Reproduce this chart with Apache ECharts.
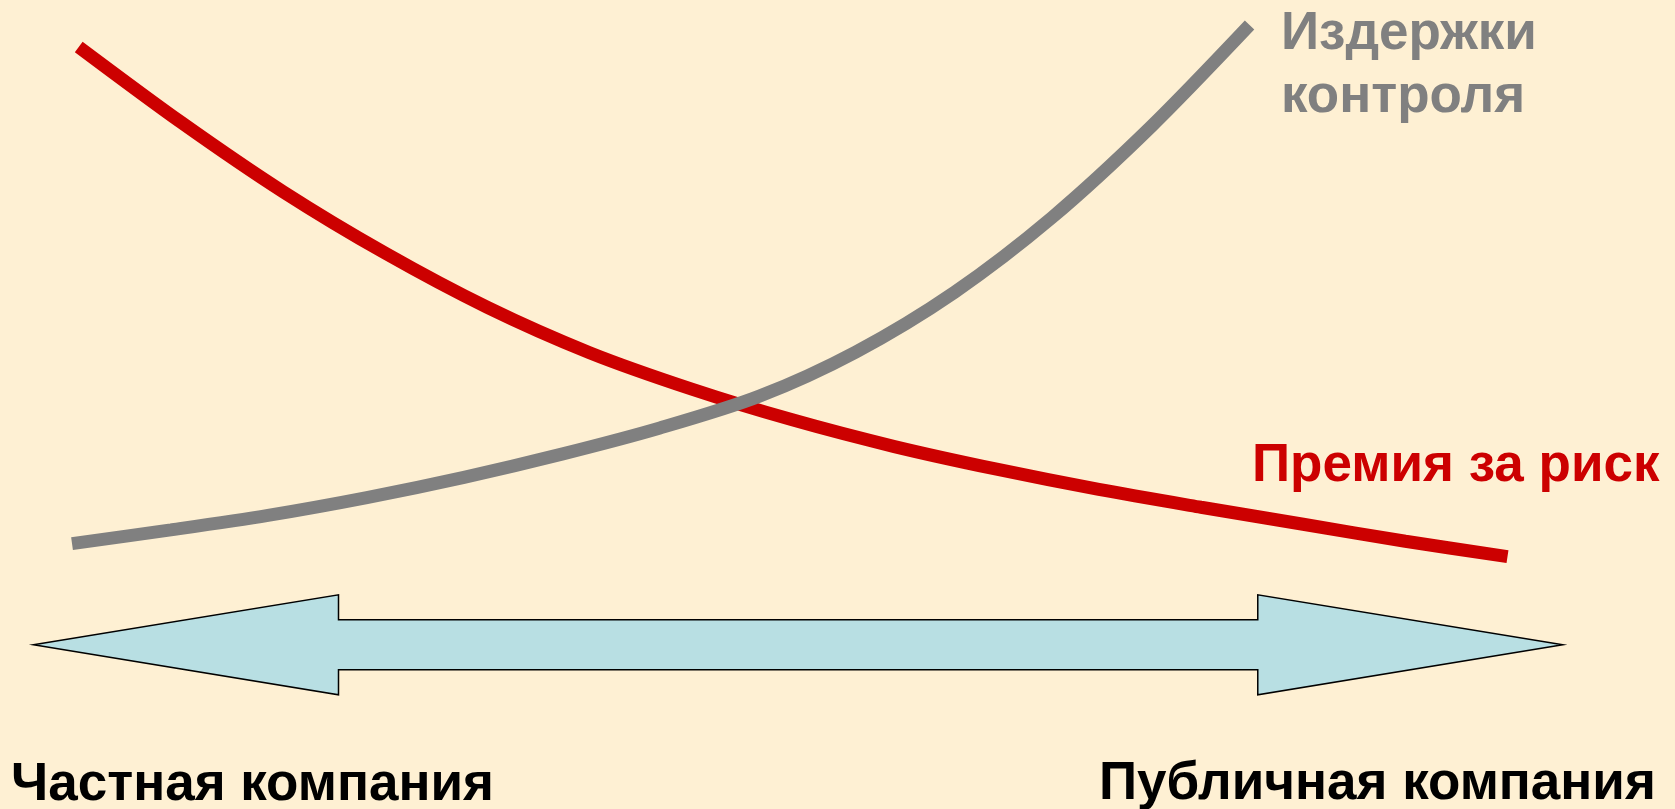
<!DOCTYPE html>
<html>
<head>
<meta charset="utf-8">
<title>Премия за риск / Издержки контроля</title>
<script src="https://cdn.jsdelivr.net/npm/echarts@6/dist/echarts.min.js"></script>
<style>
  html, body { margin: 0; padding: 0; background: #FEF0D3; }
  #chart { width: 1675px; height: 809px; }
</style>
</head>
<body>
<div id="chart"></div>
<script>
// шкала 0..100 по обеим осям: слева частная компания, справа публичная
const riskX = [4.7, 10.8, 16.9, 23.0, 29.1, 35.2, 41.3, 47.3, 53.4, 59.5, 65.6, 71.7, 77.8, 83.9, 90.0]
const riskY = [94.2, 84.9, 76.3, 68.7, 62.0, 56.4, 51.9, 48.1, 44.8, 42.0, 39.5, 37.3, 35.2, 33.1, 31.2]

const costX = [4.3, 10.2, 16.0, 21.9, 27.7, 33.6, 39.4, 45.3, 51.1, 57.0, 62.8, 68.7, 74.6]
const costY = [32.8, 34.5, 36.3, 38.5, 41.0, 43.9, 47.1, 51.0, 56.5, 63.9, 73.1, 84.3, 96.9]

// двойная стрелка: от, до, уровень
const arrowFrom = 2.0
const arrowTo = 93.3
const arrowLevel = 20.3

const riskName = 'Премия за риск'
const costName = ['Издержки', 'контроля']
const leftName = 'Частная компания'
const rightName = 'Публичная компания'

const chartInstance = echarts.init(document.getElementById('chart'))

const toPairs = (xs, ys) => xs.map((x, i) => [x, ys[i]])

const font = 'bold 53px "Liberation Sans", Arial, sans-serif'

const option = {
  backgroundColor: '#FEF0D3',
  animation: false,
  grid: { left: 0, right: 0, top: 0, bottom: 0 },
  xAxis: { type: 'value', min: 0, max: 100, show: false },
  yAxis: { type: 'value', min: 0, max: 100, show: false },
  series: [
    {
      type: 'custom',
      encode: { x: [0, 1], y: 2 },
      data: [[arrowFrom, arrowTo, arrowLevel]],
      renderItem: (params, api) => {
        const l = api.coord([api.value(0), api.value(2)])
        const r = api.coord([api.value(1), api.value(2)])
        const y = l[1]
        const head = 305
        const headHalf = 50
        const shaftHalf = 25
        return {
          type: 'polygon',
          shape: {
            points: [
              [l[0], y],
              [l[0] + head, y - headHalf],
              [l[0] + head, y - shaftHalf],
              [r[0] - head, y - shaftHalf],
              [r[0] - head, y - headHalf],
              [r[0], y],
              [r[0] - head, y + headHalf],
              [r[0] - head, y + shaftHalf],
              [l[0] + head, y + shaftHalf],
              [l[0] + head, y + headHalf]
            ]
          },
          style: { fill: '#B8DFE3', stroke: '#000', lineWidth: 1.5 }
        }
      }
    },
    {
      name: riskName,
      type: 'line',
      data: toPairs(riskX, riskY),
      smooth: 0.3,
      symbol: 'none',
      lineStyle: { color: '#CC0000', width: 13, cap: 'butt' }
    },
    {
      name: costName.join(' '),
      type: 'line',
      data: toPairs(costX, costY),
      smooth: 0.3,
      symbol: 'none',
      lineStyle: { color: '#808080', width: 13, cap: 'butt' }
    }
  ],
  graphic: [
    {
      type: 'text',
      x: 1281,
      y: 34,
      style: { text: costName[0], font: font, fill: '#808080', verticalAlign: 'middle' }
    },
    {
      type: 'text',
      x: 1281,
      y: 97,
      style: { text: costName[1], font: font, fill: '#808080', verticalAlign: 'middle' }
    },
    {
      type: 'text',
      x: 1252,
      y: 466,
      style: { text: riskName, font: font, fill: '#CC0000', verticalAlign: 'middle' }
    },
    {
      type: 'text',
      x: 11,
      y: 785,
      style: { text: leftName, font: font, fill: '#000', verticalAlign: 'middle' }
    },
    {
      type: 'text',
      x: 1099,
      y: 784,
      style: { text: rightName, font: font, fill: '#000', verticalAlign: 'middle' }
    }
  ]
}

chartInstance.setOption(option)
</script>
</body>
</html>
